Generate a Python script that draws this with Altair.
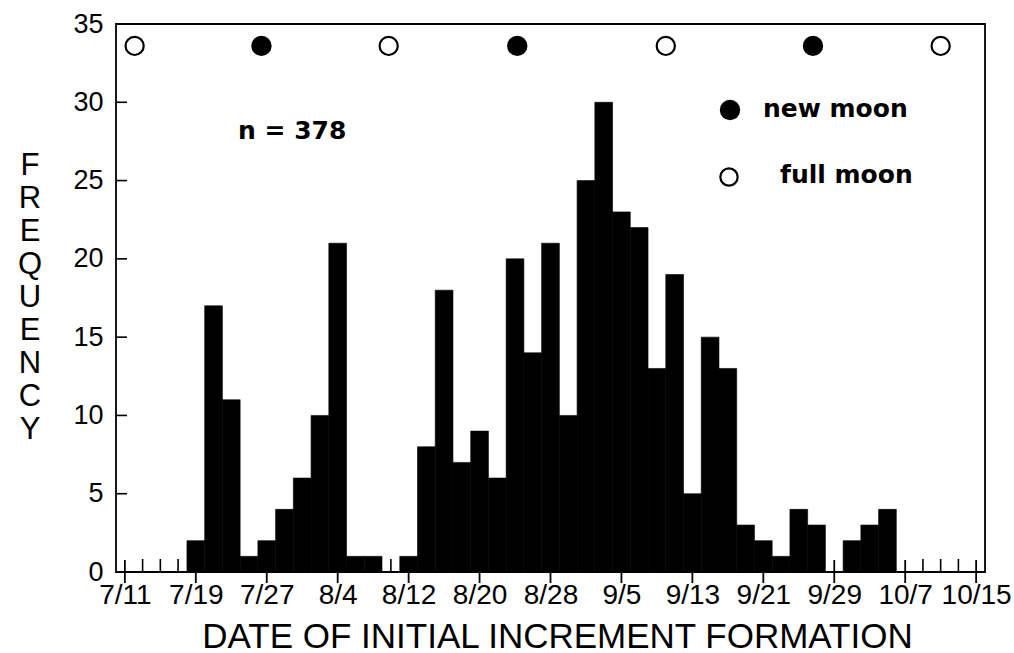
import altair as alt
import pandas as pd
from datetime import date

# ---- data ----
# 2-day bins, labelled by their centre date (m/d)
bar_dates = ["7/19", "7/21", "7/23", "7/25", "7/27", "7/29", "7/31", "8/2", "8/4",
             "8/6", "8/8", "8/10", "8/12", "8/14", "8/16", "8/18", "8/20", "8/22",
             "8/24", "8/26", "8/28", "8/30", "9/1", "9/3", "9/5", "9/7", "9/9",
             "9/11", "9/13", "9/15", "9/17", "9/19", "9/21", "9/23", "9/25", "9/27",
             "9/29", "10/1", "10/3", "10/5"]
counts = [2, 17, 11, 1, 2, 4, 6, 10, 21,
          1, 1, 0, 1, 8, 18, 7, 9, 6,
          20, 14, 21, 10, 25, 30, 23, 22, 13,
          19, 5, 15, 13, 3, 2, 1, 4, 3,
          0, 2, 3, 4]

# moon phases (days after 7/11)
new_moon_days = [15.4, 44.25, 77.6]
full_moon_days = [1.1, 29.75, 61.0, 92.0]
moon_level = 33.6

x_tick_labels = ["7/11", "7/19", "7/27", "8/4", "8/12", "8/20", "8/28",
                 "9/5", "9/13", "9/21", "9/29", "10/7", "10/15"]
y_tick_values = [0, 5, 10, 15, 20, 25, 30, 35]

n_label = "n = 378"
legend_labels = ["new moon", "full moon"]
x_title = "DATE OF INITIAL INCREMENT FORMATION"
y_title = "FREQUENCY"

# ---- helpers ----
ORIGIN = date(2001, 7, 11)


def day_of(md):
    m, d = md.split("/")
    return (date(2001, int(m), int(d)) - ORIGIN).days


bars = pd.DataFrame({"center": [day_of(s) for s in bar_dates], "count": counts})
bars["start"] = bars["center"] - 1
bars["end"] = bars["center"] + 1

tick_days = [day_of(s) for s in x_tick_labels]
minor_days = [d for d in range(tick_days[0], tick_days[-1] + 1, 2) if d not in tick_days]

W, H = 869, 548
FONT = "Liberation Sans"
BOLD_FONT = "DejaVu Sans"

xscale = alt.Scale(domain=[-1, 97], nice=False, zero=False)
yscale = alt.Scale(domain=[0, 35], nice=False)

label_expr = ("[" + ",".join("'%s'" % s for s in x_tick_labels) + "][indexof(["
              + ",".join(str(d) for d in tick_days) + "], datum.value)]")

bar_layer = alt.Chart(bars).mark_bar(color="black", stroke="black", strokeWidth=0.6).encode(
    x=alt.X("start:Q", scale=xscale,
            axis=alt.Axis(values=tick_days, labelExpr=label_expr, title=x_title,
                          ticks=False, domain=False, grid=False,
                          labelFont=FONT, labelFontSize=28, labelColor="black",
                          labelPadding=9, labelFlush=False, labelOverlap=False,
                          titleFont=FONT, titleFontSize=35, titleFontWeight="normal",
                          titleColor="black", titleBaseline="alphabetic",
                          titleY=75, titleX=441)),
    x2="end:Q",
    y=alt.Y("count:Q", scale=yscale,
            axis=alt.Axis(values=y_tick_values, title=None, ticks=False, domain=False,
                          grid=False, labelFont=FONT, labelFontSize=27,
                          labelColor="black", labelPadding=13)),
    y2=alt.datum(0),
)

minor_ticks = alt.Chart(pd.DataFrame({"d": minor_days})).mark_rule(
    color="black", strokeWidth=1.6).encode(
    x=alt.X("d:Q", scale=xscale, axis=None),
    y=alt.value(H - 13), y2=alt.value(H),
)

major_ticks = alt.Chart(pd.DataFrame({"d": tick_days})).mark_rule(
    color="black", strokeWidth=1.8).encode(
    x=alt.X("d:Q", scale=xscale, axis=None),
    y=alt.value(H - 12), y2=alt.value(H + 11),
)

y_ticks = alt.Chart(pd.DataFrame({"v": y_tick_values[1:-1]})).mark_rule(
    color="black", strokeWidth=1.6).encode(
    y=alt.Y("v:Q", scale=yscale, axis=None),
    x=alt.value(0), x2=alt.value(11),
)

new_moons = alt.Chart(pd.DataFrame({"d": new_moon_days, "lvl": [moon_level] * len(new_moon_days)})).mark_point(
    shape="circle", filled=True, color="black", size=415, opacity=1).encode(
    x=alt.X("d:Q", scale=xscale, axis=None),
    y=alt.Y("lvl:Q", scale=yscale, axis=None),
)

full_moons = alt.Chart(pd.DataFrame({"d": full_moon_days, "lvl": [moon_level] * len(full_moon_days)})).mark_point(
    shape="circle", filled=False, color="black", strokeWidth=2.2, size=330, opacity=1).encode(
    x=alt.X("d:Q", scale=xscale, axis=None),
    y=alt.Y("lvl:Q", scale=yscale, axis=None),
)

one = pd.DataFrame({"a": [0]})

# legend and annotations
leg_new = alt.Chart(one).mark_point(
    shape="circle", filled=True, color="black", size=415, opacity=1).encode(
    x=alt.value(614), y=alt.value(86))
leg_full = alt.Chart(one).mark_point(
    shape="circle", filled=False, color="black", strokeWidth=2.2, size=300, opacity=1).encode(
    x=alt.value(613), y=alt.value(153))


def label(text, px, py, font, size, weight="bold", align="left", baseline="alphabetic", **kw):
    return alt.Chart(one).mark_text(
        text=text, font=font, fontWeight=weight, fontSize=size, align=align,
        baseline=baseline, color="black", **kw).encode(
        x=alt.value(px), y=alt.value(py))


leg_text_new = label(legend_labels[0], 647, 93, BOLD_FONT, 25)
leg_text_full = label(legend_labels[1], 664, 159, BOLD_FONT, 25)
n_text = label(n_label, 122, 115, BOLD_FONT, 25)
y_title_text = label("\n".join(y_title), -86, 127, FONT, 31, weight="normal",
                     align="center", baseline="top", lineBreak="\n", lineHeight=33)

chart = alt.layer(
    bar_layer, minor_ticks, major_ticks, y_ticks, new_moons, full_moons,
    leg_new, leg_full, leg_text_new, leg_text_full, n_text, y_title_text,
).resolve_axis(
    x="independent", y="independent"
).properties(
    width=W, height=H,
    autosize=alt.AutoSizeParams(type="none"),
    padding={"left": 116, "top": 24, "right": 29, "bottom": 81},
    background="white",
).configure_view(
    stroke="black", strokeWidth=1.8,
)

chart.save("out.html", embed_options={"renderer": "svg", "actions": False})
